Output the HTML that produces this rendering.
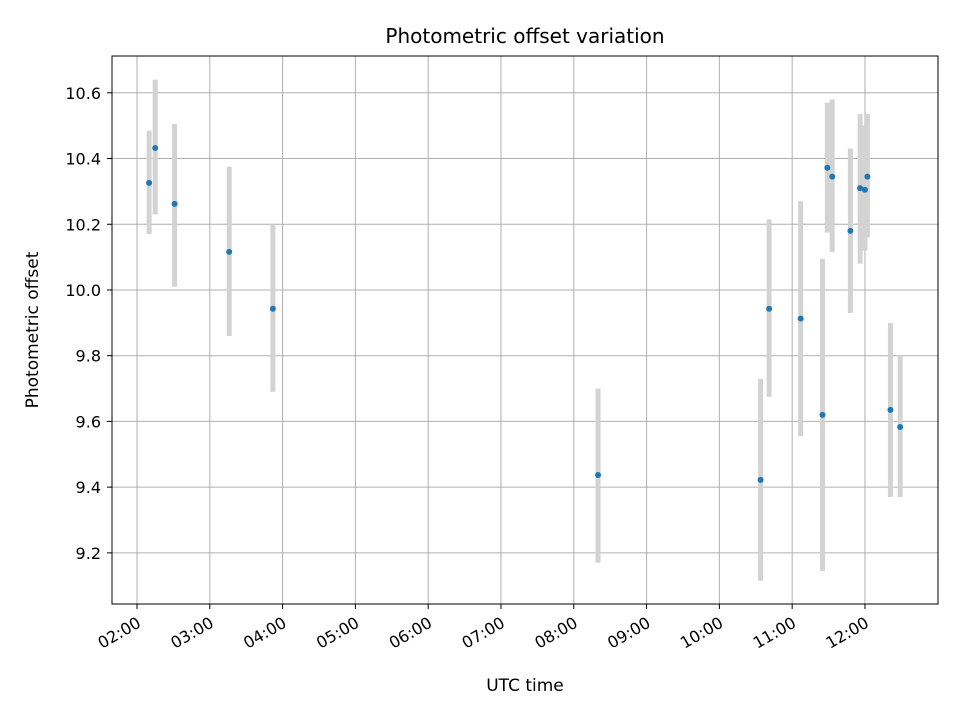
<!DOCTYPE html>
<html><head><meta charset="utf-8"><style>
body{margin:0;background:#fff;}
svg text{font-family:"DejaVu Sans","Liberation Sans",sans-serif;fill:#000;}
</style></head><body>
<svg id="chart" width="960" height="720" xmlns="http://www.w3.org/2000/svg">
<rect width="960" height="720" fill="#fff"/>
<g id="grid"></g><g id="errs"></g><g id="pts"></g>
<rect x="112" y="56" width="826" height="548" fill="none" stroke="#000" stroke-width="1"/>
<g id="axes"></g>
<text x="525" y="43" font-size="20" text-anchor="middle">Photometric offset variation</text>
<text x="525" y="691" font-size="17" text-anchor="middle">UTC time</text>
<text transform="translate(38,330) rotate(-90)" font-size="17" text-anchor="middle">Photometric offset</text>
</svg>
<script>
const times=["02:10","02:15","02:31","03:16","03:52","08:20","10:34","10:41","11:07","11:25","11:29","11:33","11:48","11:56","12:00","12:02","12:21","12:29"];
const offsets=[10.326,10.432,10.262,10.116,9.943,9.437,9.422,9.943,9.913,9.62,10.372,10.345,10.18,10.31,10.305,10.345,9.635,9.583];
const errLow=[10.17,10.23,10.01,9.86,9.69,9.17,9.115,9.675,9.555,9.145,10.175,10.115,9.93,10.08,10.12,10.16,9.37,9.37];
const errHigh=[10.485,10.64,10.505,10.375,10.2,9.70,9.73,10.215,10.27,10.095,10.57,10.58,10.43,10.535,10.5,10.535,9.9,9.80];
const xTicks=["02:00","03:00","04:00","05:00","06:00","07:00","08:00","09:00","10:00","11:00","12:00"];
const yTicks=[9.2,9.4,9.6,9.8,10.0,10.2,10.4,10.6];
const NS="http://www.w3.org/2000/svg";
const toMin=s=>{const [h,m]=s.split(":").map(Number);return h*60+m;};
const X0=112,X1=938,Y0=604,Y1=56,xmin=99.4,xmax=780.2,ymin=9.0444,ymax=10.712;
const xs=m=>X0+(m-xmin)/(xmax-xmin)*(X1-X0);
const ys=v=>Y0-(v-ymin)/(ymax-ymin)*(Y0-Y1);
function mk(tag,attrs,parent){const e=document.createElementNS(NS,tag);for(const k in attrs)e.setAttribute(k,attrs[k]);document.getElementById(parent).appendChild(e);return e;}
xTicks.forEach(t=>{const x=xs(toMin(t));
 const g=mk("line",{x1:x,x2:x,y1:Y1,y2:Y0,stroke:"#b0b0b0","stroke-width":1},"grid");
 
 
 mk("line",{x1:x,x2:x,y1:Y0,y2:Y0+5,stroke:"#000"},"axes");
 const ax=x+5,ay=Y0+22;
 const l=mk("text",{x:ax,y:ay,"font-size":16,"text-anchor":"end",transform:`rotate(-30 ${ax} ${ay})`},"axes");
 l.textContent=t;
 
 
});
yTicks.forEach(v=>{const y=ys(v);
 const g=mk("line",{x1:X0,x2:X1,y1:y,y2:y,stroke:"#b0b0b0","stroke-width":1},"grid");
 
 
 mk("line",{x1:X0-5,x2:X0,y1:y,y2:y,stroke:"#000"},"axes");
 const l=mk("text",{x:X0-11,y:y+6,"font-size":16,"text-anchor":"end"},"axes");
 l.textContent=v.toFixed(1);
 
 
});
times.forEach((t,i)=>{const x=xs(toMin(t));
 const e=mk("line",{x1:x,x2:x,y1:ys(errLow[i]),y2:ys(errHigh[i]),stroke:"#d3d3d3","stroke-width":5},"errs");
 
 
 const c=mk("circle",{cx:x,cy:ys(offsets[i]),r:3,fill:"#1f77b4"},"pts");
 
 
});
</script>
</body></html>
